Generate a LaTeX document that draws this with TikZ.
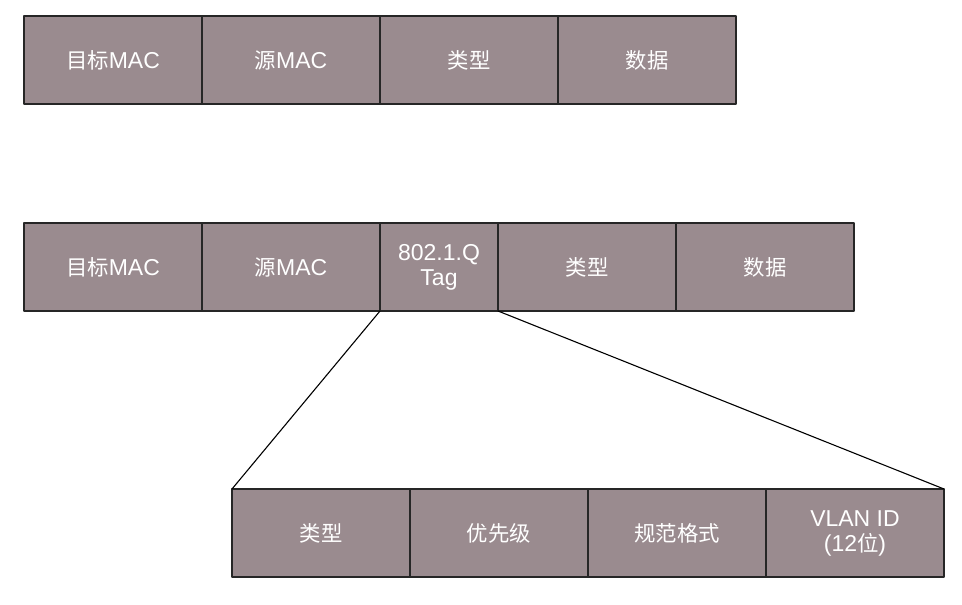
\documentclass[tikz,border=0pt]{standalone}
\usepackage{fontspec}
\setmainfont{Liberation Sans}
\newfontfamily\cjk[Scale=0.93]{Noto Sans CJK SC}
\usetikzlibrary{positioning}
\definecolor{fieldgray}{HTML}{9A8B8F}
\begin{document}
\begin{tikzpicture}[x=1pt,y=-1pt,line join=round,line cap=round]
    \tikzset{field/.style={draw=black!85,line width=1.2pt,fill=fieldgray,text=white,
        minimum width=178pt,minimum height=88pt,inner sep=0pt,outer sep=0pt,
        align=center,font=\fontsize{23}{25}\selectfont},
        tagfield/.style={field,minimum width=118pt}}
    \useasboundingbox (0,0) rectangle (962,605);
    % plain frame
    \node[field,anchor=north west] (dst) at (24,16) {{\cjk 目标}MAC};
    \node[field,right=0pt of dst] (src) {{\cjk 源}MAC};
    \node[field,right=0pt of src] (type) {\cjk 类型};
    \node[field,right=0pt of type] (data) {\cjk 数据};
    % tagged frame
    \node[field,anchor=north west] (vdst) at (24,223) {{\cjk 目标}MAC};
    \node[field,right=0pt of vdst] (vsrc) {{\cjk 源}MAC};
    \node[tagfield,right=0pt of vsrc] (tag) {802.1.Q\\Tag};
    \node[field,right=0pt of tag] (vtype) {\cjk 类型};
    \node[field,right=0pt of vtype] (vdata) {\cjk 数据};
    % tag fields
    \node[field,anchor=north west] (tpid) at (232,489) {\cjk 类型};
    \node[field,right=0pt of tpid] (prio) {\cjk 优先级};
    \node[field,right=0pt of prio] (cfi) {\cjk 规范格式};
    \node[field,right=0pt of cfi] (vid) {VLAN ID\\(12{\cjk 位})};
    \draw[line width=1.1pt] (tag.south west)--(tpid.north west);
    \draw[line width=1.1pt] (tag.south east)--(vid.north east);
\end{tikzpicture}
\end{document}
